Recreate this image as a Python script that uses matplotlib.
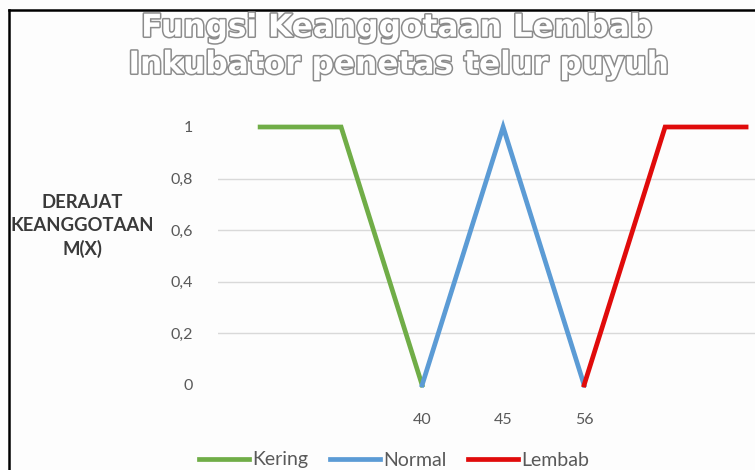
import numpy as np
import matplotlib
matplotlib.use("Agg")
import matplotlib.pyplot as plt
import matplotlib.patheffects as pe
from matplotlib.lines import Line2D

categories = ["", "", "40", "45", "56", "", ""]
kering = [1, 1, 0, np.nan, np.nan, np.nan, np.nan]
normal = [np.nan, np.nan, 0, 1, 0, np.nan, np.nan]
lembab = [np.nan, np.nan, np.nan, np.nan, 0, 1, 1]
y_ticks = [0, 0.2, 0.4, 0.6, 0.8, 1]
y_labels = ["0", "0,2", "0,4", "0,6", "0,8", "1"]

W, H = 755, 470
fig = plt.figure(figsize=(W / 100, H / 100), dpi=100)
fig.patch.set_facecolor("#fdfdfd")

# plot area in pixel terms
left, right, top, bottom = 218, 755, 127, 385
ax = fig.add_axes([left / W, 1 - bottom / H, (right - left) / W, (bottom - top) / H])
ax.set_facecolor("none")

x = np.arange(len(categories))
ax.plot(x, kering, color="#70ad47", lw=3.4, label="Kering", clip_on=False, solid_joinstyle="miter")
ax.plot(x, normal, color="#5b9bd5", lw=3.4, label="Normal", clip_on=False, solid_joinstyle="miter")
ax.plot(x, lembab, color="#e00b0b", lw=3.4, label="Lembab", clip_on=False, solid_joinstyle="miter")

ax.set_xlim(-0.52, 6.11)
ax.set_ylim(0, 1)
for v in y_ticks[1:-1]:
    ax.axhline(v, color="#d9d9d9", lw=1, zorder=0)

for s in ax.spines.values():
    s.set_visible(False)
ax.set_xticks(x)
ax.set_xticklabels(categories, fontsize=11.5, color="#595959", family="Lato")
ax.set_yticks(y_ticks)
ax.set_yticklabels(y_labels, fontsize=11.5, color="#595959", family="Lato")
ax.tick_params(length=0, axis="y", pad=18)
ax.tick_params(length=0, axis="x", pad=20)

fig.text(82 / W, 1 - 226 / H, "DERAJAT\nKEANGGOTAAN\nM(X)", ha="center", va="center",
         fontsize=13.3, fontweight="bold", color="#3a3a3a", family="Lato", linespacing=1.4)

outline = [pe.withStroke(linewidth=2.2, foreground="#8c8c8c")]
fig.text(397 / W, 1 - 28 / H, "Fungsi Keanggotaan Lembab", ha="center", va="center",
         fontsize=22.5, fontweight="bold", color="white", family="DejaVu Sans", path_effects=outline)
fig.text(399 / W, 1 - 65 / H, "Inkubator penetas telur puyuh", ha="center", va="center",
         fontsize=22.5, fontweight="bold", color="white", family="DejaVu Sans", path_effects=outline)

leg = fig.legend(loc="center", bbox_to_anchor=(394 / W, 1 - 460 / H), ncol=3, frameon=False,
                 handlelength=2.6, handletextpad=0.15, columnspacing=1.1,
                 prop={"family": "Lato", "size": 14})
for t in leg.get_texts():
    t.set_color("#595959")

# frame edges of the screenshot
fig.add_artist(Line2D([9 / W, 9 / W], [0, 1 - 10 / H], color="black", lw=1.8))
fig.add_artist(Line2D([9 / W, 1], [1 - 10 / H, 1 - 10 / H], color="black", lw=1.8))

fig.savefig("out.png", dpi=100, facecolor=fig.get_facecolor())
